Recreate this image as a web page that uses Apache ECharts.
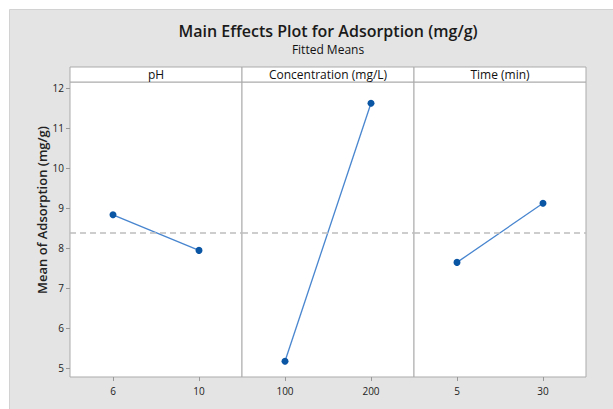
<!DOCTYPE html>
<html>
<head>
<meta charset="utf-8">
<script src="https://cdn.jsdelivr.net/npm/echarts@6/dist/echarts.min.js"></script>
<style>
  html, body { margin: 0; padding: 0; background: #fff; }
  #main { width: 613px; height: 409px; }
</style>
</head>
<body>
<div id="main"></div>
<script>
// factors and their levels
const factors = ['pH', 'Concentration (mg/L)', 'Time (min)'];
const phLevels = ['6', '10'];
const concLevels = ['100', '200'];
const timeLevels = ['5', '30'];

// fitted means (mg/g)
const phMeans = [8.83, 7.94];
const concMeans = [5.17, 11.62];
const timeMeans = [7.64, 9.12];

const grandMean = 8.39;
const yTicks = [5, 6, 7, 8, 9, 10, 11, 12];

const levels = [phLevels, concLevels, timeLevels];
const means = [phMeans, concMeans, timeMeans];

const font = '"Open Sans", "Noto Sans", sans-serif';
const plotLeft = 70, plotTop = 82, panelW = 172, plotH = 295, headH = 15;

let myChart = echarts.init(document.getElementById('main'), null, { renderer: 'svg' });

let grids = [], xAxes = [], yAxes = [], series = [], headers = [];
factors.forEach(function (name, i) {
  grids.push({
    left: plotLeft + i * panelW, top: plotTop, width: panelW, height: plotH,
    show: true, backgroundColor: '#fff', borderColor: '#ababab', borderWidth: 1
  });
  xAxes.push({
    type: 'category', gridIndex: i, data: levels[i], boundaryGap: true,
    axisLine: { show: false },
    axisTick: { show: true, alignWithLabel: true, length: 4, lineStyle: { color: '#999' } },
    axisLabel: { color: '#222', fontSize: 10, fontFamily: font, margin: 9 }
  });
  yAxes.push({
    type: 'value', gridIndex: i, min: 4.775, max: 12.15,
    axisLine: { show: false },
    splitLine: { show: false },
    axisTick: { show: i === 0, length: 4, lineStyle: { color: '#999' }, customValues: yTicks },
    axisLabel: { show: i === 0, color: '#222', fontSize: 10, fontFamily: font, margin: 6, customValues: yTicks }
  });
  series.push({
    type: 'line', xAxisIndex: i, yAxisIndex: i, data: means[i],
    symbol: 'circle', symbolSize: 7,
    itemStyle: { color: '#0b55a5' },
    lineStyle: { color: '#4785cf', width: 1.3 },
    markLine: {
      silent: true, symbol: 'none', label: { show: false },
      lineStyle: { color: '#bdbdbd', type: [6, 4], width: 1.5 },
      data: [{ yAxis: grandMean }]
    }
  });
  headers.push({
    type: 'rect',
    shape: { x: plotLeft + i * panelW, y: plotTop - headH, width: panelW, height: headH },
    style: { fill: '#fff', stroke: '#ababab', lineWidth: 1 }
  });
  headers.push({
    type: 'text',
    x: plotLeft + i * panelW + panelW / 2, y: plotTop - headH / 2,
    style: { text: name, fill: '#111', font: '12px ' + font, align: 'center', verticalAlign: 'middle' }
  });
});

let option = {
  animation: false,
  backgroundColor: '#fff',
  grid: grids,
  xAxis: xAxes,
  yAxis: yAxes,
  series: series,
  graphic: [
    {
      type: 'rect', z: -10,
      shape: { x: 9.5, y: 9.5, width: 610, height: 405 },
      style: { fill: '#e4e4e4', stroke: '#d2d2d2', lineWidth: 1 }
    },
    {
      type: 'text', x: 328, y: 31,
      style: { text: 'Main Effects Plot for Adsorption (mg/g)', fill: '#1a1a1a', font: '600 16px ' + font, align: 'center', verticalAlign: 'middle' }
    },
    {
      type: 'text', x: 328, y: 49,
      style: { text: 'Fitted Means', fill: '#111', font: '12px ' + font, align: 'center', verticalAlign: 'middle' }
    },
    {
      type: 'text', x: 42, y: 210, rotation: Math.PI / 2,
      style: { text: 'Mean of Adsorption (mg/g)', fill: '#222', font: '600 13px ' + font, align: 'center', verticalAlign: 'middle' }
    }
  ].concat(headers)
};
myChart.setOption(option);
</script>
</body>
</html>
